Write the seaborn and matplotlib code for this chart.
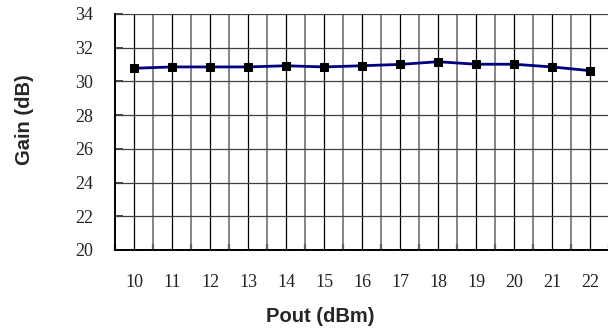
"""Gain vs output power, Excel-style category chart."""

import matplotlib
matplotlib.use("Agg")
import matplotlib.pyplot as plt
import numpy as np
import pandas as pd
import seaborn as sns

pout_dbm = [10, 11, 12, 13, 14, 15, 16, 17, 18, 19, 20, 21, 22]
gain_db = [30.78, 30.86, 30.86, 30.86, 30.93, 30.86, 30.93, 31.01,
           31.17, 31.02, 31.02, 30.86, 30.64]
y_ticks = [20, 22, 24, 26, 28, 30, 32, 34]

sns.set_style("white")
plt.rcParams["font.family"] = ["Liberation Serif", "DejaVu Serif"]

df = pd.DataFrame({"pout": pout_dbm, "gain": gain_db})

fig = plt.figure(figsize=(6.08, 3.29), dpi=100)
W, H = 608, 329
# plot area in pixels: x 115..609, y 14..250
ax = fig.add_axes([115 / W, 1 - 250 / H, 494 / W, 236 / H])

# gridlines: category centres black, category boundaries grey
for x in pout_dbm:
    ax.axvline(x, color="black", lw=0.9, zorder=1)
for x in np.arange(pout_dbm[0] - 0.5, pout_dbm[-1] + 1, 1.0):
    ax.axvline(x, color="#6f6f6f", lw=1.2, zorder=1)
for y in y_ticks:
    ax.axhline(y, color="#404040", lw=0.9, zorder=1)

sns.lineplot(data=df, x="pout", y="gain", ax=ax, color="#000080", lw=2,
             marker="s", markersize=6, markerfacecolor="black",
             markeredgecolor="black", zorder=3)

ax.set_xlim(pout_dbm[0] - 0.5, pout_dbm[-1] + 0.5)
ax.set_ylim(20, 34)
ax.set_xticks(pout_dbm)
ax.set_xticks(np.arange(pout_dbm[0] - 0.5, pout_dbm[-1] + 1, 1.0), minor=True)
ax.set_yticks(y_ticks)
ax.tick_params(axis="x", which="major", length=0, pad=17, labelsize=13,
               labelcolor="#222222")
ax.tick_params(axis="x", which="minor", direction="in", length=4, width=1.6,
               bottom=True)
ax.tick_params(axis="y", direction="in", length=6, width=1.2, left=True,
               pad=16, labelsize=13, labelcolor="#222222")
ax.set_xlabel("")
ax.set_ylabel("")

for side in ["left", "bottom"]:
    ax.spines[side].set_color("black")
    ax.spines[side].set_linewidth(1.4)
for side in ["top", "right"]:
    ax.spines[side].set_visible(False)

fig.text(24 / W, 1 - 120 / H, "Gain (dB)", rotation=90, ha="center",
         va="center", fontsize=14.5, fontweight="bold",
         family=["Liberation Sans", "DejaVu Sans"])
fig.text(320 / W, 1 - 316 / H, "Pout (dBm)", ha="center", va="center",
         fontsize=14.5, fontweight="bold",
         family=["Liberation Sans", "DejaVu Sans"])

fig.savefig("out.png", dpi=100)
